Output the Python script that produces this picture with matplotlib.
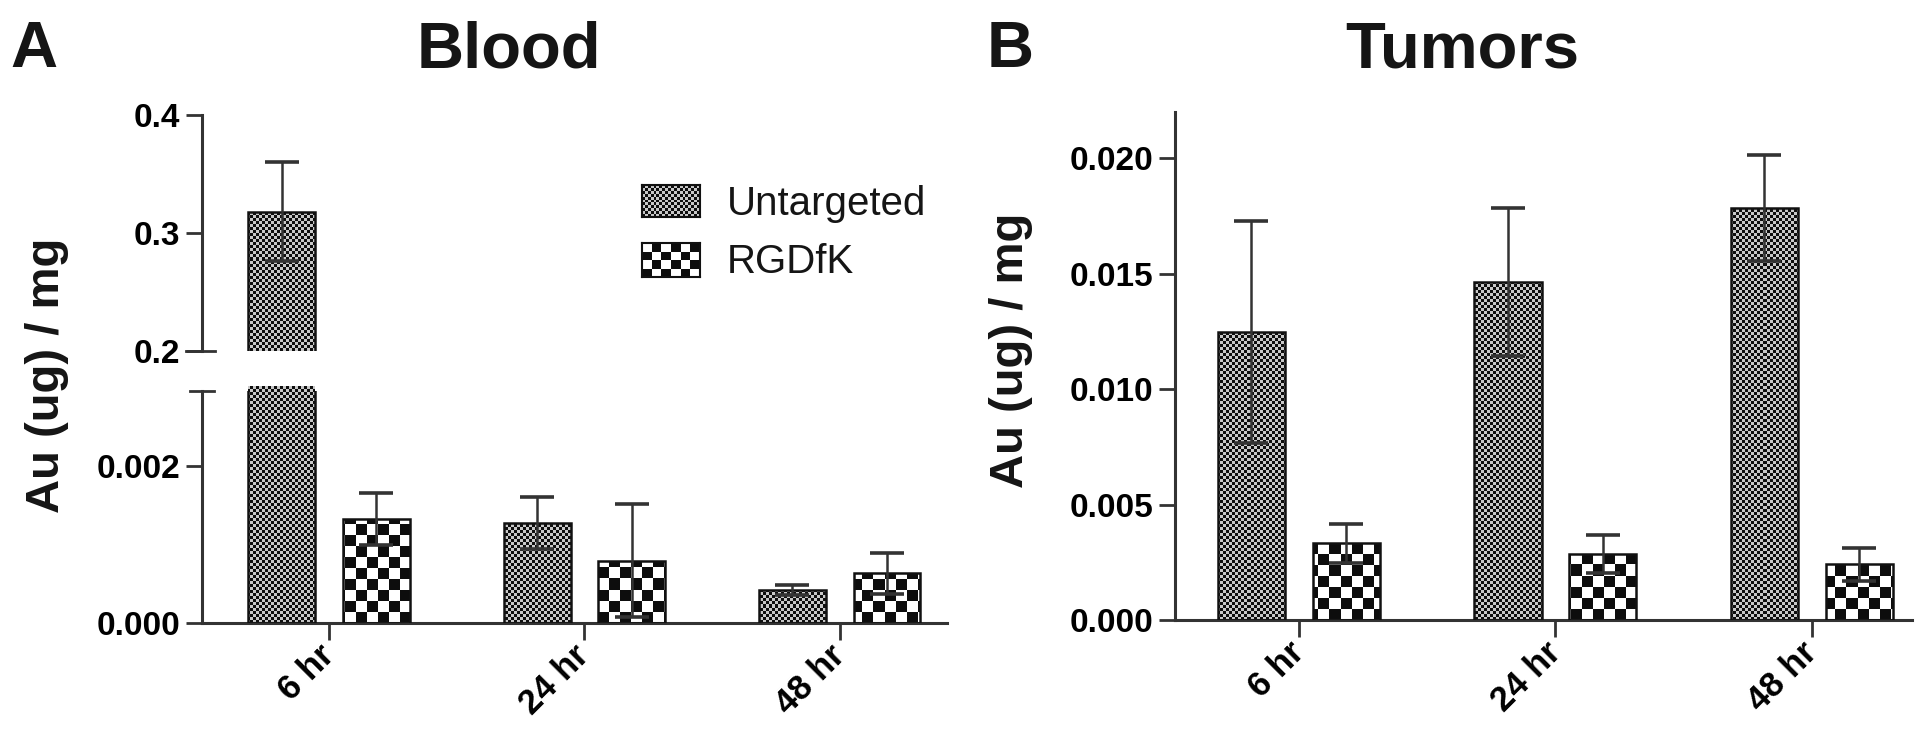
import numpy as np
import matplotlib
matplotlib.use("Agg")
import matplotlib.pyplot as plt
from matplotlib.colors import ListedColormap

plt.rcParams['font.family'] = ['Liberation Sans', 'DejaVu Sans']
plt.rcParams['font.weight'] = 'bold'
plt.rcParams['text.color'] = '#151515'

# значения
times = ['6 hr', '24 hr', '48 hr']
groups = ['Untargeted', 'RGDfK']

blood_untargeted = [0.318, 0.00127, 0.00042]
blood_untargeted_err = [0.042, 0.00033, 0.00006]
blood_rgdfk = [0.00132, 0.00079, 0.00063]
blood_rgdfk_err = [0.00033, 0.00072, 0.00026]

tumor_untargeted = [0.01247, 0.01463, 0.01784]
tumor_untargeted_err = [0.0048, 0.0032, 0.0023]
tumor_rgdfk = [0.00332, 0.00287, 0.00242]
tumor_rgdfk_err = [0.00085, 0.00082, 0.00071]

FIG_W, FIG_H = 1920, 750
AX_COL = '#333333'
fig = plt.figure(figsize=(FIG_W / 100, FIG_H / 100), dpi=100)


def px_axes(x0, y0, x1, y1):
    return fig.add_axes([x0 / FIG_W, 1 - y1 / FIG_H, (x1 - x0) / FIG_W, (y1 - y0) / FIG_H])


def checker(ny, nx):
    return np.indices((ny, nx)).sum(axis=0) % 2


PATTERNS = {'Untargeted': (3, '#0e0e0e', '#c8c8c8'),
            'RGDfK': (11, '#0d0d0d', '#ffffff')}


def fill_pattern(ax, patches, name):
    cell, dark, light = PATTERNS[name]
    pos = ax.get_position()
    w = pos.width * FIG_W
    h = pos.height * FIG_H
    nx = int(w // cell) + 2
    ny = int(h // cell) + 2
    for p in patches:
        im = ax.imshow(checker(ny, nx), cmap=ListedColormap([dark, light]),
                       extent=(0, nx * cell / w, 0, ny * cell / h), origin='lower',
                       transform=ax.transAxes, interpolation='nearest', aspect='auto',
                       zorder=1.5)
        im.set_clip_path(p)


x = np.arange(len(times))
off = 0.185
width = 0.262


def draw_bars(ax, u, ue, r, re):
    b1 = ax.bar(x - off, u, width, facecolor='none', edgecolor='#111111', linewidth=1.8, zorder=3)
    b2 = ax.bar(x + off, r, width, facecolor='none', edgecolor='#111111', linewidth=1.8, zorder=3)
    fill_pattern(ax, b1.patches, 'Untargeted')
    fill_pattern(ax, b2.patches, 'RGDfK')
    for xx, v, e in [(x - off, u, ue), (x + off, r, re)]:
        ax.errorbar(xx, v, yerr=e, fmt='none', ecolor=AX_COL, elinewidth=1.8,
                    capsize=12, capthick=2.6, zorder=4)


def style(ax, xlim):
    for s in ['top', 'right']:
        ax.spines[s].set_visible(False)
    for s in ['left', 'bottom']:
        ax.spines[s].set_linewidth(2.2)
        ax.spines[s].set_color(AX_COL)
    ax.tick_params(axis='y', length=11.5, width=2, color=AX_COL, labelsize=24, pad=4)
    ax.tick_params(axis='x', length=12, width=2, color=AX_COL, labelsize=25, pad=8)
    ax.set_xlim(*xlim)
    ax.set_xticks(x)


def xlabels(ax):
    ax.set_xticklabels(times)
    plt.setp(ax.get_xticklabels(), rotation=45, ha='right', va='center', rotation_mode='anchor')


# ---- A: Blood (разрыв оси) ----
ax_bu = px_axes(202, 115, 947, 351)
ax_bl = px_axes(202, 391, 947, 623)
for ax in (ax_bu, ax_bl):
    draw_bars(ax, blood_untargeted, blood_untargeted_err, blood_rgdfk, blood_rgdfk_err)
    style(ax, (-0.497, 2.42))

ax_bu.set_ylim(0.2, 0.4)
ax_bu.set_yticks([0.2, 0.3, 0.4])
ax_bu.set_yticklabels(['0.2', '0.3', '0.4'])
ax_bu.spines['bottom'].set_visible(False)
ax_bu.tick_params(axis='x', bottom=False, labelbottom=False)

ax_bl.set_ylim(0, 0.00295)
ax_bl.set_yticks([0, 0.002])
ax_bl.set_yticklabels(['0.000', '0.002'])
xlabels(ax_bl)

# отметки разрыва
w_ax = 745
ax_bu.plot([-16 / w_ax, 13 / w_ax], [0, 0], transform=ax_bu.transAxes, color=AX_COL, lw=2, clip_on=False)
ax_bl.plot([-12 / w_ax, 12 / w_ax], [1, 1], transform=ax_bl.transAxes, color=AX_COL, lw=2, clip_on=False)

# ---- B: Tumors ----
ax_t = px_axes(1175, 112, 1912, 620)
draw_bars(ax_t, tumor_untargeted, tumor_untargeted_err, tumor_rgdfk, tumor_rgdfk_err)
style(ax_t, (-0.483, 2.39))
ax_t.set_ylim(0, 0.022)
ax_t.set_yticks([0, 0.005, 0.010, 0.015, 0.020])
ax_t.set_yticklabels([f'{v:.3f}' for v in [0, 0.005, 0.010, 0.015, 0.020]])
xlabels(ax_t)

# ---- легенда ----
for name, (y0, y1, base) in zip(groups, [(185, 217, 215), (243, 277, 273)]):
    lax = px_axes(642, y0, 700, y1)
    cell, dark, light = PATTERNS[name]
    lax.imshow(checker(int((y1 - y0) / cell) + 1, int(58 / cell) + 1), cmap=ListedColormap([dark, light]),
               interpolation='nearest', aspect='auto', origin='lower')
    lax.set_xticks([])
    lax.set_yticks([])
    for s in lax.spines.values():
        s.set_linewidth(1.5)
        s.set_color('#111111')
    fig.text(727 / FIG_W, 1 - base / FIG_H, name, fontsize=29, fontweight='normal', va='baseline')

# ---- заголовки и подписи ----
fig.text(10 / FIG_W, 1 - 67 / FIG_H, 'A', fontsize=47, va='baseline')
fig.text(509 / FIG_W, 1 - 67 / FIG_H, 'Blood', fontsize=47, ha='center', va='baseline')
fig.text(987 / FIG_W, 1 - 67 / FIG_H, 'B', fontsize=47, va='baseline')
fig.text(1462 / FIG_W, 1 - 67 / FIG_H, 'Tumors', fontsize=47, ha='center', va='baseline')

fig.text(47 / FIG_W, 1 - 375 / FIG_H, 'Au (ug) / mg', rotation=90, fontsize=34, ha='center', va='center')
fig.text(1011 / FIG_W, 1 - 350 / FIG_H, 'Au (ug) / mg', rotation=90, fontsize=34, ha='center', va='center')

fig.savefig('out.png', dpi=100)
